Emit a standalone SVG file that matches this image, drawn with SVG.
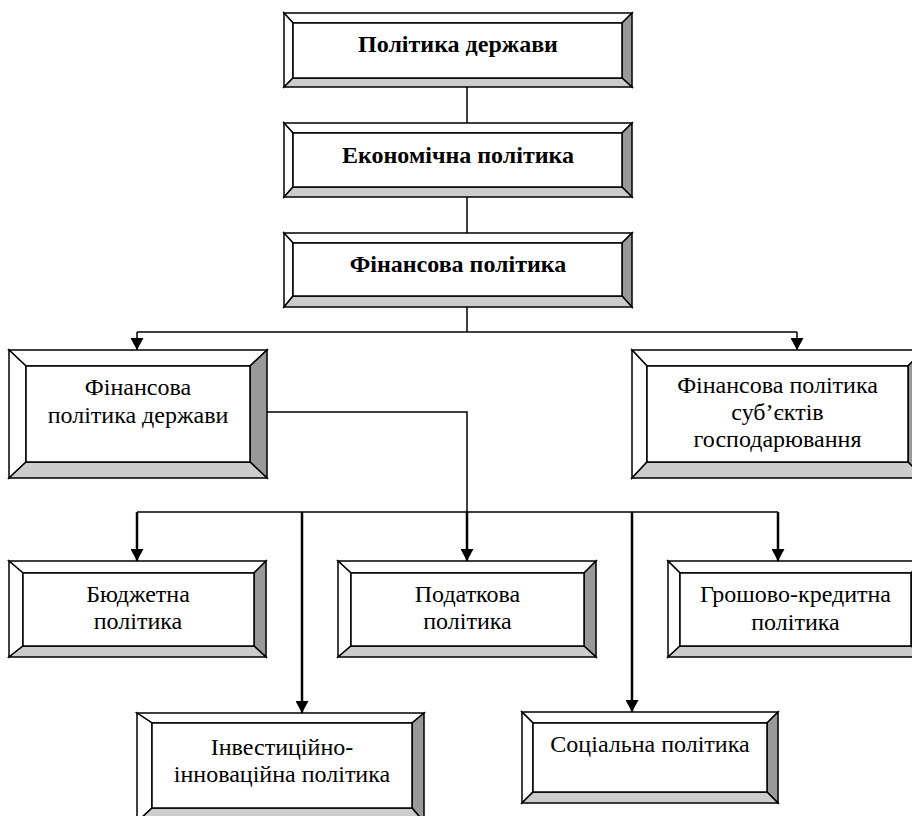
<svg xmlns="http://www.w3.org/2000/svg" width="912" height="816" viewBox="0 0 912 816">
<defs>
<style>
.bg{fill:#fff}
.b{stroke:#000;stroke-width:1.5;stroke-linejoin:miter}
.w{fill:#fff}
.r{fill:#999}
.d{fill:#ccc}
.t{font-family:"Liberation Serif","Times New Roman",serif;font-size:24px;fill:#000;text-anchor:middle}
.tb{font-family:"Liberation Serif","Times New Roman",serif;font-size:24px;font-weight:bold;fill:#000;text-anchor:middle}
.c{fill:none;stroke:#000;stroke-width:1.5}
.ck{fill:none;stroke:#000;stroke-width:2.5}
</style>
<marker id="ah" markerUnits="userSpaceOnUse" markerWidth="13" markerHeight="13" refX="12" refY="6.5" orient="auto">
<path d="M0,0 L12,6.5 L0,13 z" fill="#000"/>
</marker>
</defs>
<rect class="bg" x="0" y="0" width="912" height="816"/>

<g id="connectors">
<line class="c" x1="467" y1="87" x2="467" y2="123"/>
<line class="c" x1="467" y1="197" x2="467" y2="233"/>
<line class="c" x1="467" y1="307" x2="467" y2="332"/>
<line class="c" x1="137" y1="332" x2="797" y2="332"/>
<line class="c" x1="137" y1="332" x2="137" y2="350" marker-end="url(#ah)"/>
<line class="c" x1="797" y1="332" x2="797" y2="350" marker-end="url(#ah)"/>
<polyline class="c" points="267,412 467,412 467,512"/>
<line class="c" x1="137" y1="512" x2="778" y2="512"/>
<line class="ck" x1="137" y1="512" x2="137" y2="561" marker-end="url(#ah)"/>
<line class="ck" x1="467" y1="512" x2="467" y2="561" marker-end="url(#ah)"/>
<line class="ck" x1="778" y1="512" x2="778" y2="561" marker-end="url(#ah)"/>
<line class="ck" x1="302" y1="512" x2="302" y2="713" marker-end="url(#ah)"/>
<line class="ck" x1="632" y1="512" x2="632" y2="712" marker-end="url(#ah)"/>
</g>

<g id="n1">
<polygon class="b w" points="284,13 632,13 622,23 293,23"/>
<polygon class="b w" points="284,13 293,23 293,78 284,87"/>
<polygon class="b r" points="632,13 632,87 622,78 622,23"/>
<polygon class="b d" points="284,87 293,78 622,78 632,87"/>
<rect class="b w" x="293" y="23" width="329" height="55"/>
<text class="tb" x="458" y="52">Політика держави</text>
</g>

<g id="n2">
<polygon class="b w" points="284,123 632,123 622,133 293,133"/>
<polygon class="b w" points="284,123 293,133 293,187 284,197"/>
<polygon class="b r" points="632,123 632,197 622,187 622,133"/>
<polygon class="b d" points="284,197 293,187 622,187 632,197"/>
<rect class="b w" x="293" y="133" width="329" height="54"/>
<text class="tb" x="458" y="163">Економічна політика</text>
</g>

<g id="n3">
<polygon class="b w" points="284,233 632,233 622,243 293,243"/>
<polygon class="b w" points="284,233 293,243 293,296 284,307"/>
<polygon class="b r" points="632,233 632,307 622,296 622,243"/>
<polygon class="b d" points="284,307 293,296 622,296 632,307"/>
<rect class="b w" x="293" y="243" width="329" height="53"/>
<text class="tb" x="458" y="272">Фінансова політика</text>
</g>

<g id="n4">
<polygon class="b w" points="9,350 267,350 250,366 26,366"/>
<polygon class="b w" points="9,350 26,366 26,462 9,478"/>
<polygon class="b r" points="267,350 267,478 250,462 250,366"/>
<polygon class="b d" points="9,478 26,462 250,462 267,478"/>
<rect class="b w" x="26" y="366" width="224" height="96"/>
<text class="t" x="138" y="395">Фінансова</text>
<text class="t" x="138" y="423">політика держави</text>
</g>

<g id="n5">
<polygon class="b w" points="632,350 924,350 908,366 647,366"/>
<polygon class="b w" points="632,350 647,366 647,462 632,478"/>
<polygon class="b r" points="924,350 924,478 908,462 908,366"/>
<polygon class="b d" points="632,478 647,462 908,462 924,478"/>
<rect class="b w" x="647" y="366" width="261" height="96"/>
<text class="t" x="777.5" y="393">Фінансова політика</text>
<text class="t" x="777.5" y="420">суб’єктів</text>
<text class="t" x="777.5" y="447">господарювання</text>
</g>

<g id="n6">
<polygon class="b w" points="9,561 266,561 254,573 23,573"/>
<polygon class="b w" points="9,561 23,573 23,646 9,657"/>
<polygon class="b r" points="266,561 266,657 254,646 254,573"/>
<polygon class="b d" points="9,657 23,646 254,646 266,657"/>
<rect class="b w" x="23" y="573" width="231" height="73"/>
<text class="t" x="138" y="602">Бюджетна</text>
<text class="t" x="138" y="629">політика</text>
</g>

<g id="n7">
<polygon class="b w" points="338,561 596,561 584,573 351,573"/>
<polygon class="b w" points="338,561 351,573 351,646 338,657"/>
<polygon class="b r" points="596,561 596,657 584,646 584,573"/>
<polygon class="b d" points="338,657 351,646 584,646 596,657"/>
<rect class="b w" x="351" y="573" width="233" height="73"/>
<text class="t" x="467.5" y="602">Податкова</text>
<text class="t" x="467.5" y="629">політика</text>
</g>

<g id="n8">
<polygon class="b w" points="668,561 924,561 911,573 680,573"/>
<polygon class="b w" points="668,561 680,573 680,646 668,657"/>
<polygon class="b r" points="924,561 924,657 911,646 911,573"/>
<polygon class="b d" points="668,657 680,646 911,646 924,657"/>
<rect class="b w" x="680" y="573" width="231" height="73"/>
<text class="t" x="795.5" y="602">Грошово-кредитна</text>
<text class="t" x="795.5" y="630">політика</text>
</g>

<g id="n9">
<polygon class="b w" points="137,713 424,713 412,723 152,723"/>
<polygon class="b w" points="137,713 152,723 152,808 137,822"/>
<polygon class="b r" points="424,713 424,822 412,808 412,723"/>
<polygon class="b d" points="137,822 152,808 412,808 424,822"/>
<rect class="b w" x="152" y="723" width="260" height="85"/>
<text class="t" x="282" y="755">Інвестиційно-</text>
<text class="t" x="282" y="782">інноваційна політика</text>
</g>

<g id="n10">
<polygon class="b w" points="522,712 778,712 767,723 533,723"/>
<polygon class="b w" points="522,712 533,723 533,792 522,803"/>
<polygon class="b r" points="778,712 778,803 767,792 767,723"/>
<polygon class="b d" points="522,803 533,792 767,792 778,803"/>
<rect class="b w" x="533" y="723" width="234" height="69"/>
<text class="t" x="650" y="752">Соціальна політика</text>
</g>
</svg>
